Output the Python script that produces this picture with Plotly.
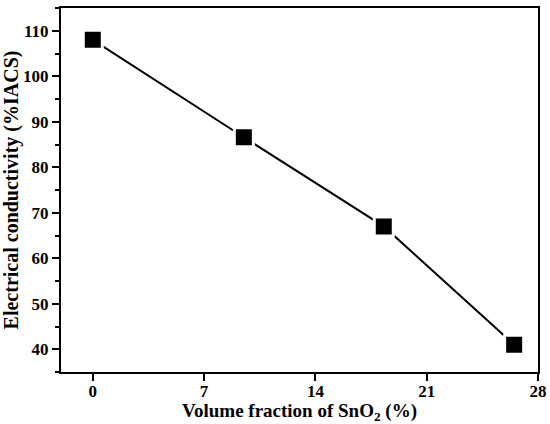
import plotly.graph_objects as go

# data
sno2_vol = [0, 9.5, 18.3, 26.5]
conductivity = [108, 86.6, 67.0, 41.0]

x_ticks = [0, 7, 14, 21, 28]
y_ticks = [40, 50, 60, 70, 80, 90, 100, 110]

font_main = "Liberation Serif"

fig = go.Figure()
fig.add_trace(go.Scatter(
    x=sno2_vol, y=conductivity,
    mode="lines+markers",
    line=dict(color="black", width=2),
    marker=dict(symbol="square", size=19, color="black",
                line=dict(color="white", width=3)),
    showlegend=False,
))

axis_common = dict(
    showline=True, linecolor="black", linewidth=2, mirror=True,
    showgrid=False, zeroline=False,
    ticks="outside", ticklen=7, tickwidth=2, tickcolor="black",
    tickfont=dict(family=font_main, size=17, color="black", weight="bold"),
    automargin=False,
)

fig.update_xaxes(
    range=[-2, 28], tickvals=x_ticks, ticklabelstandoff=-4,
    title=dict(text="<b>Volume fraction of SnO<sub>2</sub> (%)</b>",
               font=dict(family=font_main, size=19, color="black"), standoff=4),
    **axis_common,
)
fig.update_yaxes(
    range=[35, 115], tickvals=y_ticks,
    minor=dict(ticks="outside", ticklen=4, tickwidth=2, tickcolor="black", dtick=5, tick0=35),
    title=dict(text="<b>Electrical conductivity (%IACS)</b>",
               font=dict(family=font_main, size=20, color="black"), standoff=2),
    **axis_common,
)

fig.update_layout(
    width=550, height=424,
    margin=dict(l=61, r=12, t=8, b=52),
    plot_bgcolor="white", paper_bgcolor="white",
)

# the page body has a default margin, drop it so the figure sits at the corner
fig.write_html("out.html", config={"displayModeBar": False},
               post_script="document.body.style.margin='0';")
